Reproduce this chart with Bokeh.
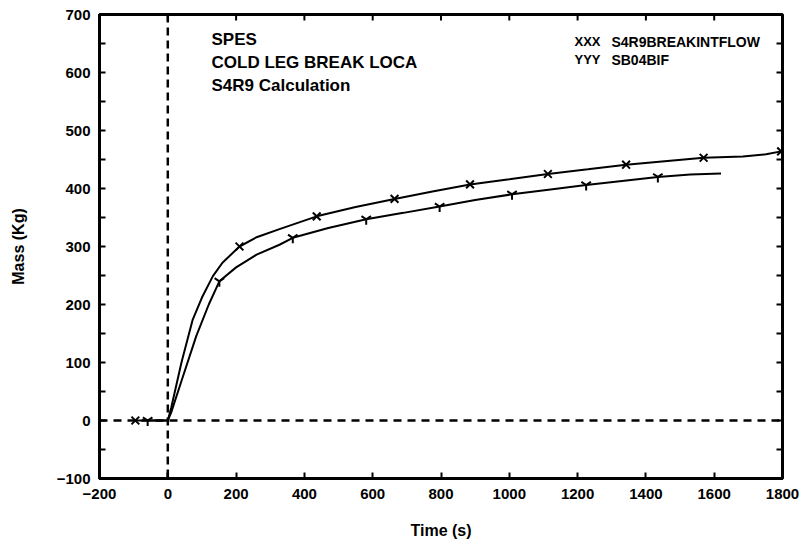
import math
from bokeh.plotting import figure
from bokeh.models import Span, Label, FixedTicker, Range1d
from bokeh.embed import file_html
from bokeh.resources import INLINE

# ---- data ----
t_xxx = [-95, 0, 10, 40, 73, 100, 132, 160, 210, 260, 327, 436, 550, 664, 775,
         885, 1000, 1113, 1230, 1342, 1455, 1569, 1684, 1752, 1796]
m_xxx = [0, 0, 22, 100, 174, 212, 249, 272, 300, 316, 330, 352, 368, 382, 395,
         407, 416, 425, 433, 441, 447, 453, 455, 459, 464]
mk_t_xxx = [-95, 210, 436, 664, 885, 1113, 1342, 1569, 1796]
mk_m_xxx = [0, 300, 352, 382, 407, 425, 441, 453, 464]

t_yyy = [-59, 0, 10, 40, 83, 120, 151, 200, 260, 327, 366, 470, 581, 690, 796,
         900, 1008, 1115, 1225, 1330, 1435, 1530, 1620]
m_yyy = [0, 0, 14, 68, 145, 200, 240, 264, 286, 303, 315, 332, 347, 358, 369,
         380, 390, 398, 406, 413, 420, 424, 426]
mk_t_yyy = [-59, 151, 366, 581, 796, 1008, 1225, 1435]
mk_m_yyy = [0, 240, 315, 347, 369, 390, 406, 420]

x_min, x_max = -200, 1800
y_min, y_max = -100, 700
x_ticks = [-200, 0, 200, 400, 600, 800, 1000, 1200, 1400, 1600, 1800]
y_ticks = [-100, 0, 100, 200, 300, 400, 500, 600, 700]
y_minor = [-50, 50, 150, 250, 350, 450, 550, 650]

title_lines = ["SPES", "COLD LEG BREAK LOCA", "S4R9 Calculation"]
legend_syms = ["XXX", "YYY"]
legend_names = ["S4R9BREAKINTFLOW", "SB04BIF"]

FONT = "Liberation Sans"

p = figure(frame_width=683, frame_height=464,
           min_border_left=99, min_border_right=18, min_border_top=14, min_border_bottom=55,
           x_range=Range1d(x_min, x_max), y_range=Range1d(y_min, y_max),
           output_backend="svg", toolbar_location=None,
           x_axis_label="Time (s)", y_axis_label="Mass (Kg)")
p.grid.visible = False
p.outline_line_color = "black"
p.outline_line_width = 3
p.background_fill_color = "white"
p.border_fill_color = "white"

def style_axis(ax, ticks, minor):
    ax.ticker = FixedTicker(ticks=ticks, minor_ticks=minor)
    ax.axis_line_width = 3
    ax.axis_line_color = "black"
    ax.major_tick_in = 6
    ax.major_tick_out = 0
    ax.minor_tick_in = 6
    ax.minor_tick_out = 0
    ax.major_tick_line_width = 2
    ax.minor_tick_line_width = 2
    ax.major_label_text_font = FONT
    ax.major_label_text_font_style = "bold"
    ax.major_label_text_font_size = "15px"
    ax.major_label_text_color = "black"
    ax.axis_label_text_font = FONT
    ax.axis_label_text_font_style = "bold"
    ax.axis_label_text_font_size = "16px"
    ax.axis_label_text_color = "black"

style_axis(p.xaxis[0], x_ticks, [])
style_axis(p.yaxis[0], y_ticks, y_minor)
p.xaxis[0].major_label_standoff = 10
p.xaxis[0].axis_label_standoff = 20
p.yaxis[0].major_label_standoff = 9
p.yaxis[0].axis_label_standoff = 27

# inward tick marks on the top and right frame edges (half of each dash is clipped)
p.scatter(x_ticks, [y_max] * len(x_ticks), marker="dash", angle=math.pi / 2,
          size=12, line_color="black", line_width=2)
all_y = sorted(y_ticks + y_minor)
p.scatter([x_max] * len(all_y), all_y, marker="dash",
          size=12, line_color="black", line_width=2)

# dashed zero lines
p.add_layout(Span(location=0, dimension="width", line_color="black",
                  line_width=2.5, line_dash="8 6"))
p.add_layout(Span(location=0, dimension="height", line_color="black",
                  line_width=2.5, line_dash="8 5"))

# curves
p.line(t_xxx, m_xxx, line_color="black", line_width=2)
p.line(t_yyy, m_yyy, line_color="black", line_width=2)
p.scatter(mk_t_xxx, mk_m_xxx, marker="x", size=11, line_color="black", line_width=2)
p.scatter(mk_t_yyy, mk_m_yyy, marker="y", size=11, line_color="black", line_width=2)

# annotation block
for i, s in enumerate(title_lines):
    p.add_layout(Label(x=128, y=657 - 39.5 * i, text=s, text_font=FONT,
                       text_font_style="bold", text_font_size="17px",
                       text_baseline="middle", text_color="black"))

for i, (sym, name) in enumerate(zip(legend_syms, legend_names)):
    yy = 653 - 31 * i
    p.add_layout(Label(x=1191, y=yy, text=sym, text_font=FONT,
                       text_font_style="bold", text_font_size="13px",
                       text_baseline="middle", text_color="black"))
    p.add_layout(Label(x=1299, y=yy, text=name, text_font=FONT,
                       text_font_style="bold", text_font_size="14px",
                       text_baseline="middle", text_color="black"))

open("out.html", "w").write(file_html(p, INLINE))
